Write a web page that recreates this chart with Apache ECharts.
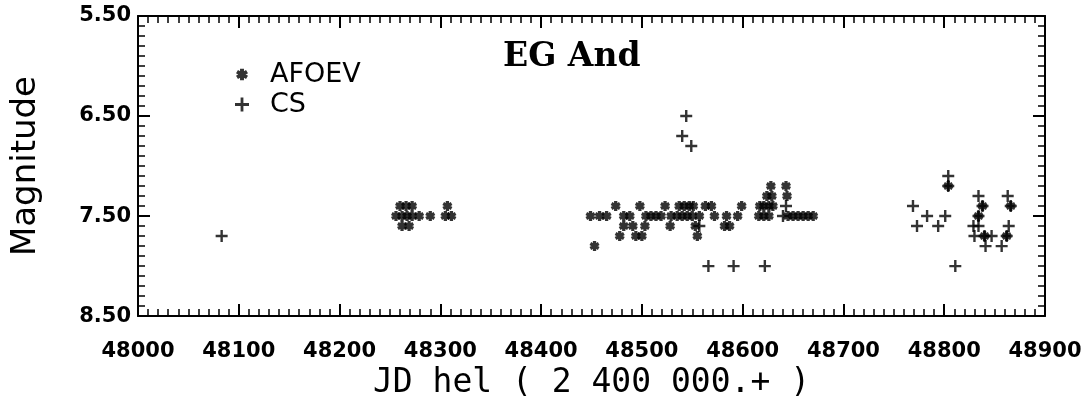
<!DOCTYPE html>
<html>
<head>
<meta charset="utf-8">
<script src="https://cdn.jsdelivr.net/npm/echarts@6/dist/echarts.min.js"></script>
<style>
html,body{margin:0;padding:0;background:#fff;}
#chart{width:1089px;height:405px;}
</style>
</head>
<body>
<div id="chart"></div>
<script>
// ---- data ----
const titleText = 'EG And';
const seriesNames = ['AFOEV', 'CS'];
const xTicks = [48000, 48100, 48200, 48300, 48400, 48500, 48600, 48700, 48800, 48900];
const yTicks = [5.5, 6.5, 7.5, 8.5];

const afoevJD = [
  48260, 48266, 48272, 48307,
  48256, 48262, 48267, 48272, 48279, 48290, 48305, 48311,
  48262, 48269,
  48474, 48498, 48523, 48537, 48542, 48547, 48551, 48563, 48569, 48599, 48617, 48621, 48626, 48630,
  48624, 48629, 48644,
  48628, 48643,
  48449, 48458, 48465, 48482, 48488, 48504, 48509, 48514, 48519, 48529, 48535, 48540, 48545, 48550, 48557, 48572, 48584, 48595, 48616, 48621, 48626, 48645, 48650, 48655, 48660, 48665, 48670,
  48482, 48491, 48503, 48528, 48553, 48582, 48587,
  48478, 48494, 48500, 48555,
  48453,
  48804, 48838, 48834, 48840, 48862, 48866
];
const afoevMag = [
  7.4, 7.4, 7.4, 7.4,
  7.5, 7.5, 7.5, 7.5, 7.5, 7.5, 7.5, 7.5,
  7.6, 7.6,
  7.4, 7.4, 7.4, 7.4, 7.4, 7.4, 7.4, 7.4, 7.4, 7.4, 7.4, 7.4, 7.4, 7.4,
  7.3, 7.3, 7.3,
  7.2, 7.2,
  7.5, 7.5, 7.5, 7.5, 7.5, 7.5, 7.5, 7.5, 7.5, 7.5, 7.5, 7.5, 7.5, 7.5, 7.5, 7.5, 7.5, 7.5, 7.5, 7.5, 7.5, 7.5, 7.5, 7.5, 7.5, 7.5, 7.5,
  7.6, 7.6, 7.6, 7.6, 7.6, 7.6, 7.6,
  7.7, 7.7, 7.7, 7.7,
  7.8,
  7.2, 7.4, 7.5, 7.7, 7.7, 7.4
];
const csJD = [
  48083,
  48544, 48540, 48549,
  48566, 48591, 48622,
  48643, 48640, 48557,
  48769, 48773, 48783, 48794, 48801, 48804, 48804, 48811,
  48834, 48838, 48834, 48829, 48834, 48830, 48840, 48847, 48841, 48857, 48862, 48864, 48866, 48863
];
const csMag = [
  7.7,
  6.5, 6.7, 6.8,
  8.0, 8.0, 8.0,
  7.4, 7.5, 7.6,
  7.4, 7.6, 7.5, 7.6, 7.5, 7.1, 7.2, 8.0,
  7.3, 7.4, 7.5, 7.6, 7.6, 7.7, 7.7, 7.7, 7.8, 7.8, 7.7, 7.6, 7.4, 7.3
];

// ---- symbols ----
const asteriskPath = 'path://M-0.34 -1 L0.34 -1 L0.34 1 L-0.34 1 Z ' +
  'M0.696 -0.794 L1.036 -0.206 L-0.696 0.794 L-1.036 0.206 Z ' +
  'M-1.036 -0.206 L-0.696 -0.794 L1.036 0.206 L0.696 0.794 Z';
const plusPath = 'path://M-1 -0.2 L1 -0.2 L1 0.2 L-1 0.2 Z M-0.2 -1 L0.2 -1 L0.2 1 L-0.2 1 Z';

const zip = (a, b) => a.map((v, i) => [v, b[i]]);

const chart = echarts.init(document.getElementById('chart'), null, {renderer: 'canvas'});
const black = '#000';
const tickFont = {color: black, fontFamily: 'DejaVu Sans', fontWeight: 'bold', fontSize: 21};
const lineStyle = {color: black, width: 2};

const xBase = {
  type: 'value', min: 48000, max: 48900, interval: 100,
  axisLine: {show: true, onZero: false, lineStyle: lineStyle},
  axisTick: {show: true, inside: true, length: 12, lineStyle: lineStyle},
  minorTick: {show: true, splitNumber: 10, length: 7, lineStyle: {color: black, width: 1.5}},
  splitLine: {show: false}, minorSplitLine: {show: false}
};
const yFine = {
  type: 'value', min: 5.5, max: 8.5, interval: 0.1, inverse: true,
  axisLine: {show: true, onZero: false, lineStyle: lineStyle},
  axisTick: {show: true, inside: true, length: 7, lineStyle: {color: black, width: 1.5}},
  axisLabel: {show: false},
  splitLine: {show: false}
};
const yMajor = {
  type: 'value', min: 5.5, max: 8.5, interval: 0.1, inverse: true,
  axisLine: {show: false},
  axisTick: {show: true, inside: true, length: 12, customValues: yTicks, lineStyle: lineStyle},
  axisLabel: {show: false},
  splitLine: {show: false}
};

chart.setOption({
  animation: false,
  backgroundColor: '#fff',
  title: {
    text: titleText, left: 498, top: 36,
    textStyle: {fontFamily: 'DejaVu Serif', fontWeight: 'bold', fontSize: 33, color: black}
  },
  legend: [
    {
      data: [seriesNames[0]], left: 236, top: 61, padding: 0,
      itemWidth: 12, itemHeight: 12,
      textStyle: {fontFamily: 'DejaVu Sans', fontSize: 27, color: black, padding: [0, 0, 20, 17]}
    },
    {
      data: [seriesNames[1]], left: 235, top: 91, padding: 0,
      itemWidth: 14, itemHeight: 14,
      textStyle: {fontFamily: 'DejaVu Sans', fontSize: 27, color: black, padding: [0, 0, 22, 16]}
    }
  ],
  grid: {left: 138, right: 44, top: 16, bottom: 85, containLabel: false},
  xAxis: [
    Object.assign({}, xBase, {
      position: 'bottom',
      axisLabel: {show: true, margin: 25, customValues: xTicks, formatter: v => String(v), ...tickFont},
      name: 'JD hel ( 2 400 000.+ )', nameLocation: 'middle', nameGap: 50,
      nameTextStyle: {fontFamily: 'DejaVu Sans Mono', fontSize: 33, color: black}
    }),
    Object.assign({}, xBase, {position: 'top', axisLabel: {show: false}})
  ],
  yAxis: [
    Object.assign({}, yFine, {
      position: 'left',
      axisLabel: {show: true, margin: 7, customValues: yTicks, formatter: v => v.toFixed(2), ...tickFont},
      name: 'Magnitude', nameLocation: 'middle', nameGap: 95, nameRotate: 90,
      nameTextStyle: {fontFamily: 'DejaVu Sans', fontSize: 34, color: black}
    }),
    Object.assign({}, yMajor, {position: 'left'}),
    Object.assign({}, yFine, {position: 'right'}),
    Object.assign({}, yMajor, {position: 'right'})
  ],
  series: [
    {
      name: seriesNames[0], type: 'scatter', xAxisIndex: 0, yAxisIndex: 0,
      symbol: asteriskPath, symbolSize: 10,
      itemStyle: {color: black},
      data: zip(afoevJD, afoevMag)
    },
    {
      name: seriesNames[1], type: 'scatter', xAxisIndex: 0, yAxisIndex: 0,
      symbol: plusPath, symbolSize: 12,
      itemStyle: {color: black},
      data: zip(csJD, csMag)
    }
  ]
});
</script>
</body>
</html>
